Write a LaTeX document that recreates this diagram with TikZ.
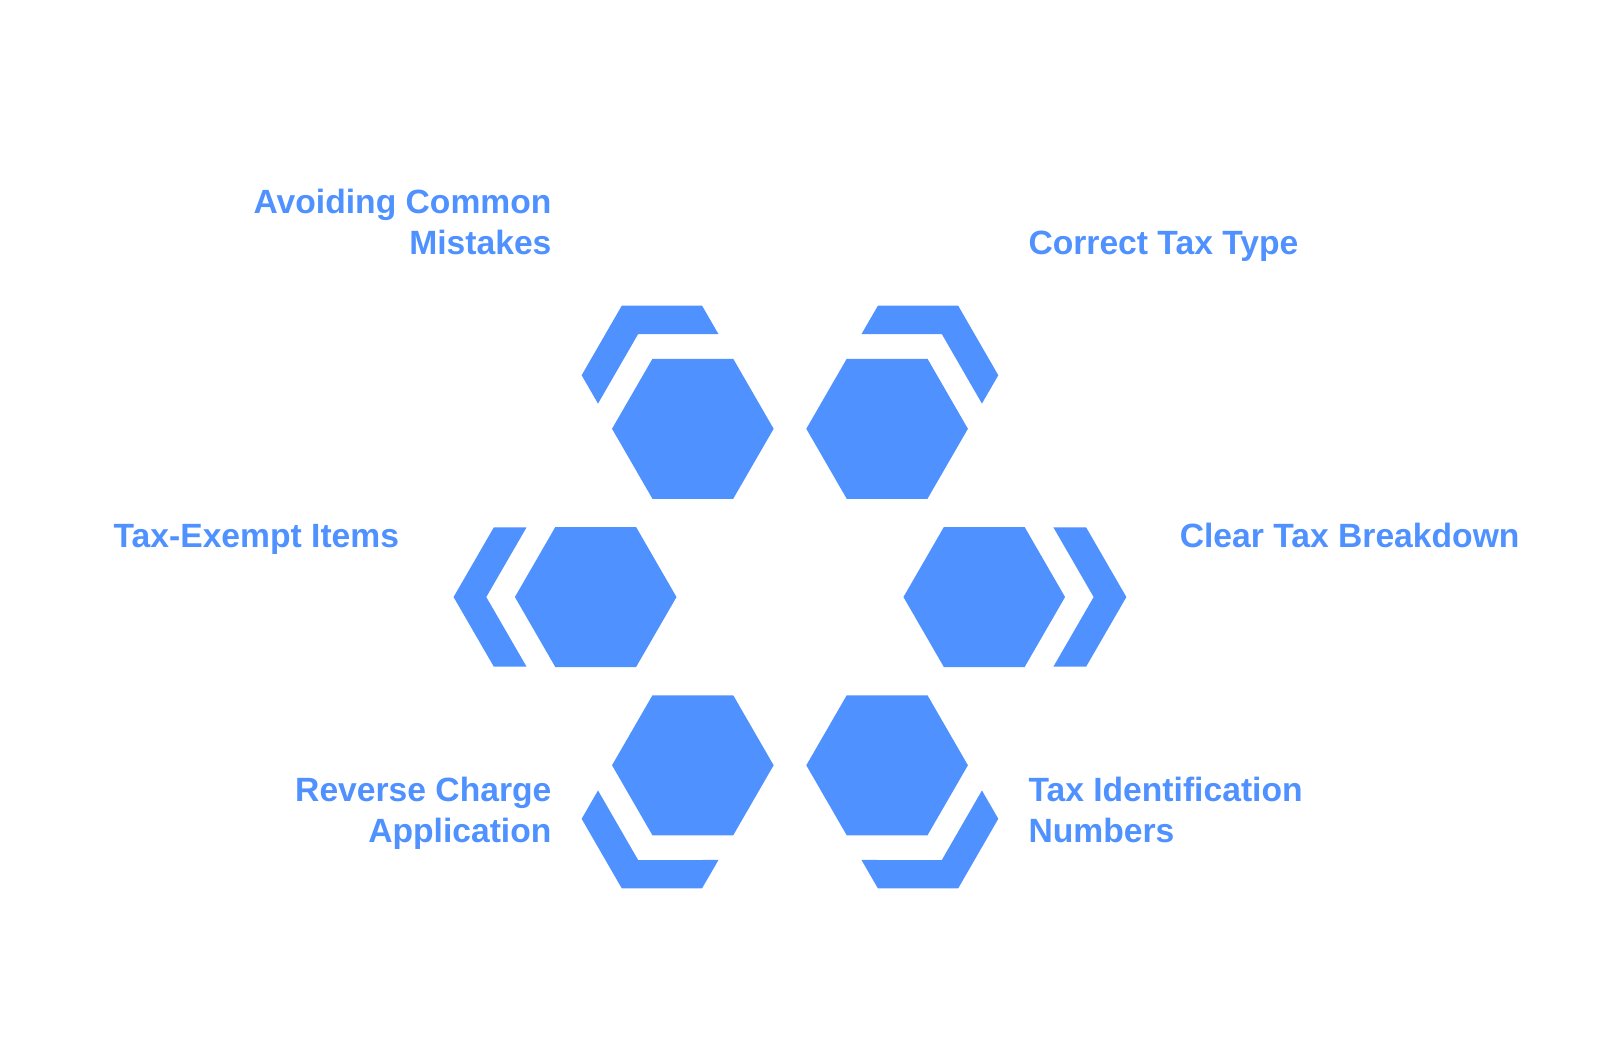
\documentclass[tikz,border=0pt]{standalone}
\usepackage{fontspec}
\setmainfont{Liberation Sans}
\usetikzlibrary{shapes.geometric,positioning}
\definecolor{hexblue}{HTML}{4F91FF}

\begin{document}
\begin{tikzpicture}[x=0.025cm,y=0.025cm,
	hexa/.style={regular polygon, regular polygon sides=6, minimum size=3.95cm, inner sep=0pt, fill=hexblue},
	lbl/.style={text=hexblue, font=\fontsize{23.4}{28.45}\selectfont\bfseries, inner sep=0pt}]
				\useasboundingbox (-772.6,-446) rectangle (792.2,583.9);
				\node[hexa] (h_1) at (120:190) {};
				\node[hexa] (h_2) at (60:190) {};
				\node[hexa] (h_3) at (0:190) {};
				\node[hexa] (h_4) at (-60:190) {};
				\node[hexa] (h_5) at (-120:190) {};
				\node[hexa] (h_6) at (180:190) {};
				% outer brackets
				\foreach \n/\a in {h_1/120, h_2/60, h_3/0, h_4/-60, h_5/-120, h_6/180}
				\fill[hexblue, shift={(\n.center)}, rotate=\a-180]
				(-139,0) -- (-99.7,68) -- (-67.7,68) -- (-107,0) -- (-67.7,-68) -- (-99.7,-68) -- cycle;
				\node[lbl, align=right, anchor=east] (t_1) at (-233,366.5) {Avoiding Common\\Mistakes};
				\node[lbl, anchor=base west] (t_2) at (233,335) {Correct Tax Type};
				\node[lbl, anchor=base west] (t_3) at (381,48.5) {Clear Tax Breakdown};
				\node[lbl, align=left, anchor=west] (t_4) at (233,-208) {Tax Identification\\Numbers};
				\node[lbl, align=right, anchor=east] (t_5) at (-233,-211.4) {Reverse Charge\\Application};
				\node[lbl, anchor=base east] (t_6) at (-382,48.5) {Tax-Exempt Items};
			\end{tikzpicture}
\end{document}
